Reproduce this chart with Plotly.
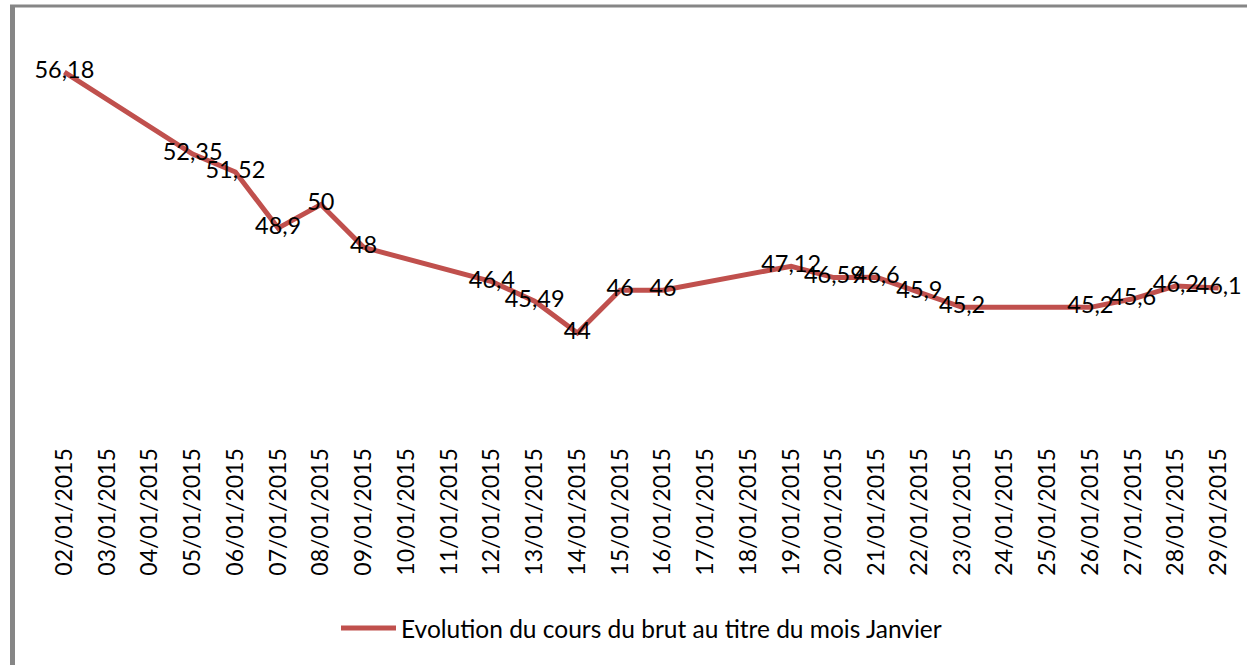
import plotly.graph_objects as go

dates = ["02/01/2015", "03/01/2015", "04/01/2015", "05/01/2015", "06/01/2015",
         "07/01/2015", "08/01/2015", "09/01/2015", "10/01/2015", "11/01/2015",
         "12/01/2015", "13/01/2015", "14/01/2015", "15/01/2015", "16/01/2015",
         "17/01/2015", "18/01/2015", "19/01/2015", "20/01/2015", "21/01/2015",
         "22/01/2015", "23/01/2015", "24/01/2015", "25/01/2015", "26/01/2015",
         "27/01/2015", "28/01/2015", "29/01/2015"]
prix = [56.18, None, None, 52.35, 51.52,
        48.9, 50, 48, None, None,
        46.4, 45.49, 44, 46, 46,
        None, None, 47.12, 46.59, 46.6,
        45.9, 45.2, None, None, 45.2,
        45.6, 46.2, 46.1]
serie = "Evolution du cours du brut au titre du mois Janvier"

labels = ["" if v is None else f"{v:g}".replace(".", ",") for v in prix]

W, H = 1247, 665
L, R, T, B = 43, 7, 20, 246
PW, PH = W - L - R, H - T - B

def px(x):
    return (x - L) / PW

def py(y):
    return (H - B - y) / PH

FONT = "Lato"
RED = "#C0504D"

fig = go.Figure()
fig.add_trace(go.Scatter(
    x=dates, y=prix, mode="lines+text", text=labels,
    textposition="middle center",
    textfont=dict(family=FONT, size=23.5, color="black"),
    line=dict(color=RED, width=5), connectgaps=True,
    name=serie, showlegend=False, cliponaxis=False, hoverinfo="skip",
))

# legend drawn manually (long Excel-style line sample)
fig.add_shape(type="line", xref="paper", yref="paper",
              x0=px(341), x1=px(396), y0=py(628), y1=py(628),
              line=dict(color=RED, width=5))
fig.add_annotation(xref="paper", yref="paper", x=px(399), y=py(628),
                   xanchor="left", yanchor="middle", showarrow=False,
                   text=serie, font=dict(family=FONT, size=24.5, color="black"))

# chart border (grey frame)
fig.add_shape(type="line", xref="paper", yref="paper",
              x0=px(12.5), x1=px(12.5), y0=py(5), y1=py(670),
              line=dict(color="#868686", width=5))
fig.add_shape(type="line", xref="paper", yref="paper",
              x0=px(10), x1=px(1250), y0=py(6), y1=py(6),
              line=dict(color="#868686", width=3))

fig.update_layout(
    width=W, height=H,
    margin=dict(l=L, r=R, t=T, b=B),
    paper_bgcolor="white", plot_bgcolor="white",
    font=dict(family=FONT, size=22, color="black"),
    xaxis=dict(type="category", range=[-0.5, 27.5], tickangle=-90,
               showgrid=False, showline=False, zeroline=False,
               ticks="outside", ticklen=19, tickcolor="rgba(0,0,0,0)",
               tickfont=dict(family=FONT, size=23, color="black")),
    yaxis=dict(range=[39.99, 58.61], visible=False, showgrid=False),
)

fig.write_html("out.html", config={"displayModeBar": False},
               post_script="document.body.style.margin='0';document.body.style.overflow='hidden';")
